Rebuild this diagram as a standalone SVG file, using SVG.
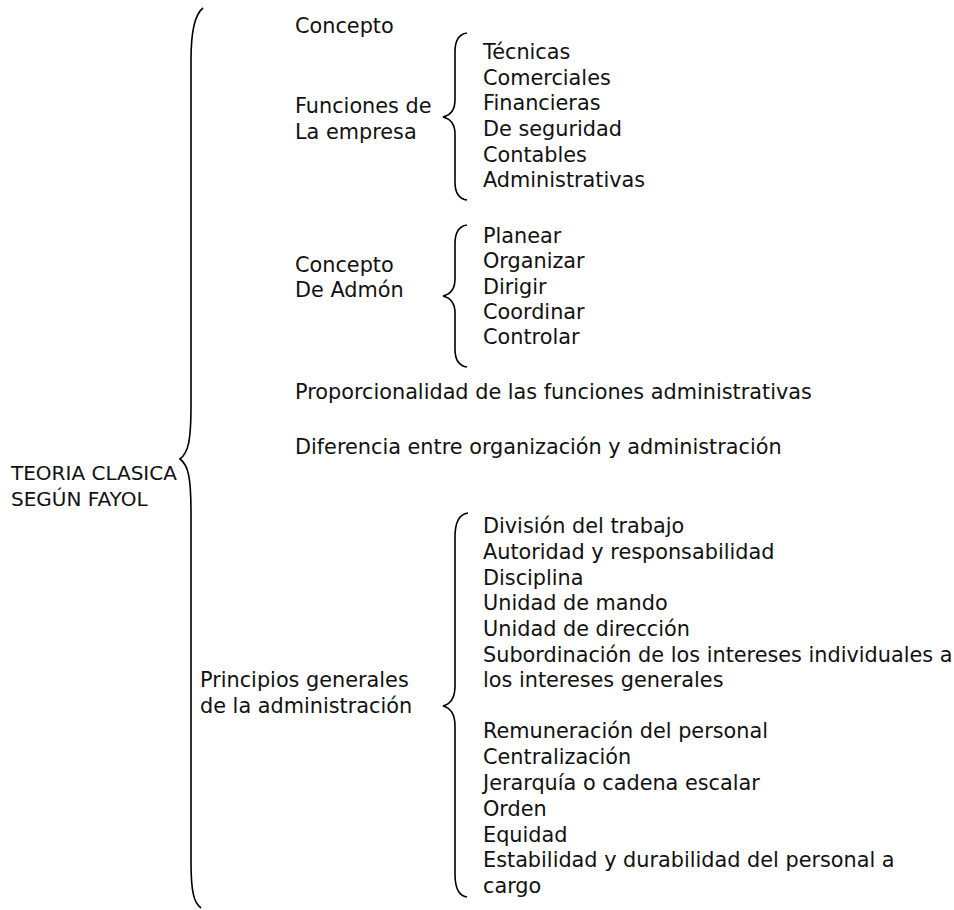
<svg xmlns="http://www.w3.org/2000/svg" width="954" height="910" viewBox="0 0 954 910">
<style>
text{font-family:"DejaVu Sans","Liberation Sans",sans-serif;font-size:20.8px;fill:#111}
#root text{font-size:20px}
.br{fill:none;stroke:#000;stroke-width:1.6}
</style>
<rect width="954" height="910" fill="#fff"/>
<g id="connectors">
<path class="br" d="M203,8 C195,14 191,30 191,60 L191,405 C191,442 188,453 180,459 C188,465 191,476 191,513 L191,862 C191,892 194,903 201,908"/>
<path class="br" d="M467,33 C459,34 455,40 455,52 L455,100 C455,110 451,115 443,117 C451,119 455,124 455,134 L455,182 C455,194 459,199 467,200"/>
<path class="br" d="M467,225 C459,226 455,232 455,244 L455,279 C455,289 451,294 443,296 C451,298 455,303 455,313 L455,349 C455,361 459,366 467,367"/>
<path class="br" d="M468,513 C460,514 455,522 455,537 L455,686 C455,698 451,704 443,706 C451,708 455,714 455,726 L455,874 C455,889 459,896 467,897"/>
</g>
<g id="root"><text x="11" y="480">TEORIA CLASICA</text><text x="11" y="506">SEGÚN FAYOL</text></g>
<g id="concepto"><text x="295" y="33">Concepto</text></g>
<g id="funciones"><text x="295" y="113">Funciones de</text><text x="295" y="139">La empresa</text></g>
<g id="funciones-items">
<text x="483" y="59">Técnicas</text>
<text x="483" y="85">Comerciales</text>
<text x="483" y="110">Financieras</text>
<text x="483" y="136">De seguridad</text>
<text x="483" y="162">Contables</text>
<text x="483" y="187">Administrativas</text>
</g>
<g id="admon"><text x="295" y="272">Concepto</text><text x="295" y="297">De Admón</text></g>
<g id="admon-items">
<text x="483" y="243">Planear</text>
<text x="483" y="268">Organizar</text>
<text x="483" y="294">Dirigir</text>
<text x="483" y="319">Coordinar</text>
<text x="483" y="344">Controlar</text>
</g>
<g id="proporcionalidad"><text x="295" y="399">Proporcionalidad de las funciones administrativas</text></g>
<g id="diferencia"><text x="295" y="454">Diferencia entre organización y administración</text></g>
<g id="principios"><text x="200" y="687">Principios generales</text><text x="200" y="713">de la administración</text></g>
<g id="principios-items">
<text x="483" y="533">División del trabajo</text>
<text x="483" y="559">Autoridad y responsabilidad</text>
<text x="483" y="585">Disciplina</text>
<text x="483" y="610">Unidad de mando</text>
<text x="483" y="636">Unidad de dirección</text>
<text x="483" y="662">Subordinación de los intereses individuales a</text>
<text x="483" y="687">los intereses generales</text>
<text x="483" y="738">Remuneración del personal</text>
<text x="483" y="764">Centralización</text>
<text x="483" y="790">Jerarquía o cadena escalar</text>
<text x="483" y="816">Orden</text>
<text x="483" y="842">Equidad</text>
<text x="483" y="867">Estabilidad y durabilidad del personal a</text>
<text x="483" y="893">cargo</text>
</g>
</svg>
